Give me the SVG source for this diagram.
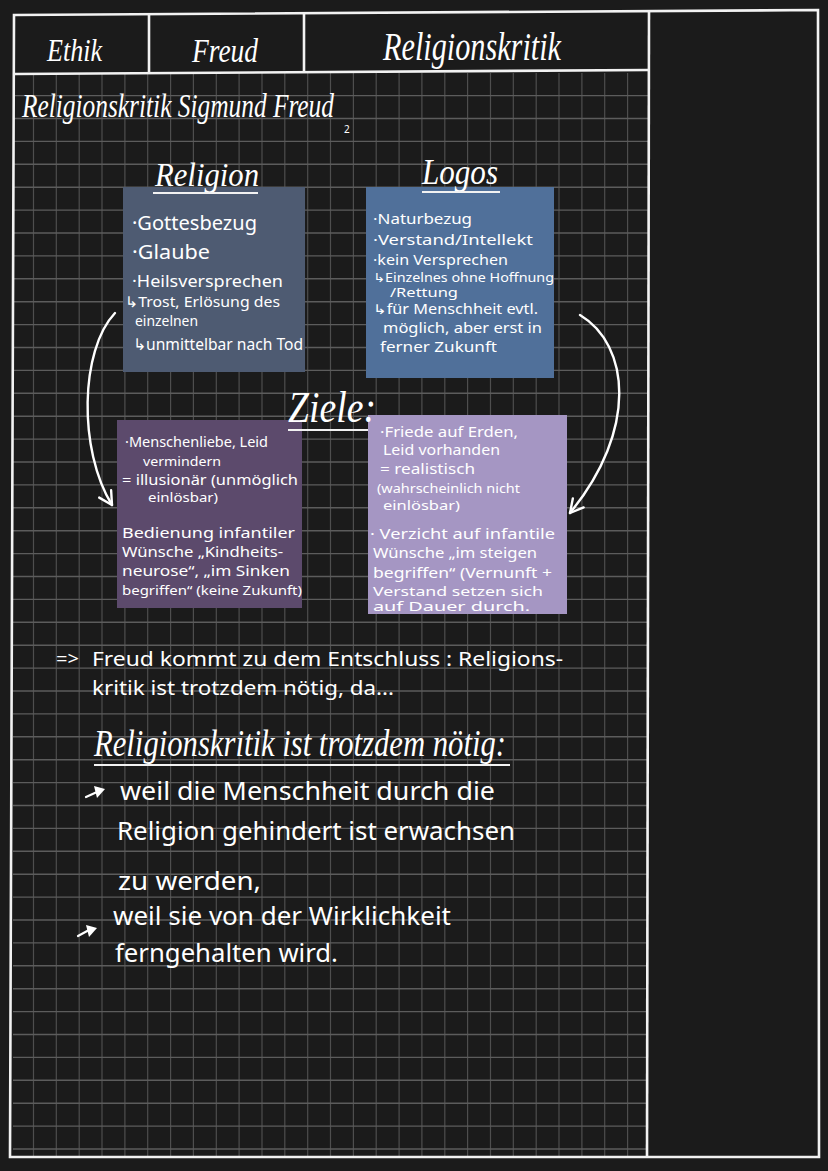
<svg xmlns="http://www.w3.org/2000/svg" width="828" height="1171" viewBox="0 0 828 1171">
  <defs>
    <marker id="vhead" markerUnits="userSpaceOnUse" markerWidth="30" markerHeight="30" refX="0" refY="0" viewBox="-15 -15 30 30" orient="auto">
      <path d="M-13,-7 L0,0 L-13,7" fill="none" stroke="#ffffff" stroke-width="2.4" stroke-linecap="round" stroke-linejoin="round"/>
    </marker>
    <style>
      .frame { stroke: #f2f2f2; stroke-width: 2.6; fill: none; }
      .gridv { stroke: #4e4e4e; stroke-width: 1.2; fill: none; }
      .gridh { stroke: #5c5c5c; stroke-width: 1.4; fill: none; }
      .cal { font-family: "Liberation Serif", "DejaVu Serif", serif; font-style: italic; fill: #ffffff; }
      .hand { font-family: "Noto Sans", "DejaVu Sans", sans-serif; fill: #ffffff; }
      .ul { stroke: #f2f2f2; stroke-width: 2.2; }
      .conn { fill: none; stroke: #ffffff; stroke-width: 2.4; stroke-linecap: round; }
    </style>
  </defs>

  <rect x="0" y="0" width="828" height="1171" fill="#1b1b1b"/>

  <g id="grid">
    <path class="gridv" d="M33.5,73V1157 M56.3,73V1157 M79.2,73V1157 M102,73V1157 M124.9,73V1157 M147.7,73V1157 M170.6,73V1157 M193.4,73V1157 M216.3,73V1157 M239.1,73V1157 M262,73V1157 M284.8,73V1157 M307.7,73V1157 M330.5,73V1157 M353.4,73V1157 M376.2,73V1157 M399.1,73V1157 M421.9,73V1157 M444.8,73V1157 M467.6,73V1157 M490.5,73V1157 M513.3,73V1157 M536.2,73V1157 M559,73V1157 M581.9,73V1157 M604.7,73V1157 M627.6,73V1157"/>
    <path class="gridh" d="M13,95.6H648 M13,118.5H648 M13,141.4H648 M13,164.3H648 M13,187.2H648 M13,210.1H648 M13,233H648 M13,255.9H648 M13,278.8H648 M13,301.7H648 M13,324.6H648 M13,347.5H648 M13,370.4H648 M13,393.3H648 M13,416.2H648 M13,439.1H648 M13,462H648 M13,484.9H648 M13,507.8H648 M13,530.7H648 M13,553.6H648 M13,576.5H648 M13,599.4H648 M13,622.3H648 M13,645.2H648 M13,668.1H648 M13,691H648 M13,713.9H648 M13,736.8H648 M13,759.7H648 M13,782.6H648 M13,805.5H648 M13,828.4H648 M13,851.3H648 M13,874.2H648 M13,897.1H648 M13,920H648 M13,942.9H648 M13,965.8H648 M13,988.7H648 M13,1011.6H648 M13,1034.5H648 M13,1057.4H648 M13,1080.3H648 M13,1103.2H648 M13,1126.1H648 M13,1149H648"/>
  </g>

  <g id="frame">
    <path class="frame" d="M14,15 L818,10 L819,1157 L10,1157 Z"/>
    <line class="frame" x1="649" y1="11" x2="647" y2="1157"/>
    <line class="frame" x1="14" y1="74" x2="649" y2="70"/>
    <line class="frame" x1="149" y1="14" x2="149" y2="73"/>
    <line class="frame" x1="304" y1="13" x2="304" y2="72"/>
  </g>

  <g id="header">
    <text class="cal" x="47" y="61" font-size="31" textLength="55" lengthAdjust="spacingAndGlyphs">Ethik</text>
    <text class="cal" x="192" y="62" font-size="33" textLength="66" lengthAdjust="spacingAndGlyphs">Freud</text>
    <text class="cal" x="383" y="60" font-size="40" textLength="178" lengthAdjust="spacingAndGlyphs">Religionskritik</text>
  </g>

  <g id="title">
    <text class="cal" x="22" y="117" font-size="34" textLength="312" lengthAdjust="spacingAndGlyphs">Religionskritik Sigmund Freud</text>
    <text class="hand" x="344" y="133" font-size="10">2</text>
  </g>

  <g id="node-religion">
    <rect x="123" y="187" width="182" height="185" fill="#4e5b72"/>
    <text class="cal" x="155" y="186" font-size="34" textLength="104" lengthAdjust="spacingAndGlyphs">Religion</text>
    <line class="ul" x1="153" y1="193" x2="258" y2="193"/>
    <text class="hand" x="132" y="230" font-size="20" textLength="125" lengthAdjust="spacingAndGlyphs">·Gottesbezug</text>
    <text class="hand" x="132" y="259" font-size="20" textLength="78" lengthAdjust="spacingAndGlyphs">·Glaube</text>
    <text class="hand" x="132" y="287" font-size="16" textLength="151" lengthAdjust="spacingAndGlyphs">·Heilsversprechen</text>
    <text class="hand" x="125" y="307" font-size="15" textLength="155" lengthAdjust="spacingAndGlyphs">↳Trost, Erlösung des</text>
    <text class="hand" x="135" y="326" font-size="15" textLength="63" lengthAdjust="spacingAndGlyphs">einzelnen</text>
    <text class="hand" x="133" y="350" font-size="16" textLength="170" lengthAdjust="spacingAndGlyphs">↳unmittelbar nach Tod</text>
  </g>

  <g id="node-logos">
    <rect x="366" y="187" width="188" height="191" fill="#50709a"/>
    <text class="cal" x="422" y="184" font-size="36" textLength="76" lengthAdjust="spacingAndGlyphs">Logos</text>
    <line class="ul" x1="422" y1="192" x2="500" y2="192"/>
    <text class="hand" x="373" y="224" font-size="15" textLength="99" lengthAdjust="spacingAndGlyphs">·Naturbezug</text>
    <text class="hand" x="373" y="245" font-size="15" textLength="160" lengthAdjust="spacingAndGlyphs">·Verstand/Intellekt</text>
    <text class="hand" x="373" y="265" font-size="15" textLength="135" lengthAdjust="spacingAndGlyphs">·kein Versprechen</text>
    <text class="hand" x="373" y="282" font-size="12.5" textLength="181" lengthAdjust="spacingAndGlyphs">↳Einzelnes ohne Hoffnung</text>
    <text class="hand" x="390" y="297" font-size="12.5" textLength="68" lengthAdjust="spacingAndGlyphs">/Rettung</text>
    <text class="hand" x="373" y="314" font-size="13.5" textLength="165" lengthAdjust="spacingAndGlyphs">↳für Menschheit evtl.</text>
    <text class="hand" x="383" y="333" font-size="15" textLength="159" lengthAdjust="spacingAndGlyphs">möglich, aber erst in</text>
    <text class="hand" x="380" y="352" font-size="15" textLength="117" lengthAdjust="spacingAndGlyphs">ferner Zukunft</text>
  </g>

  <g id="node-illusion">
    <rect x="117" y="420" width="185" height="188" fill="#5c4a6c"/>
    <text class="hand" x="125" y="447" font-size="14" textLength="143" lengthAdjust="spacingAndGlyphs">·Menschenliebe, Leid</text>
    <text class="hand" x="143" y="466" font-size="13" textLength="78" lengthAdjust="spacingAndGlyphs">vermindern</text>
    <text class="hand" x="122" y="485" font-size="15" textLength="176" lengthAdjust="spacingAndGlyphs">= illusionär (unmöglich</text>
    <text class="hand" x="148" y="502" font-size="13" textLength="70" lengthAdjust="spacingAndGlyphs">einlösbar)</text>
    <text class="hand" x="122" y="538" font-size="15" textLength="173" lengthAdjust="spacingAndGlyphs">Bedienung infantiler</text>
    <text class="hand" x="122" y="557" font-size="14" textLength="161" lengthAdjust="spacingAndGlyphs">Wünsche „Kindheits-</text>
    <text class="hand" x="122" y="576" font-size="14" textLength="168" lengthAdjust="spacingAndGlyphs">neurose“, „im Sinken</text>
    <text class="hand" x="122" y="595" font-size="13" textLength="180" lengthAdjust="spacingAndGlyphs">begriffen“ (keine Zukunft)</text>
  </g>

  <g id="node-realistic">
    <rect x="368" y="415" width="199" height="199" fill="#a596c3"/>
    <text class="hand" x="380" y="437" font-size="15" textLength="138" lengthAdjust="spacingAndGlyphs">·Friede auf Erden,</text>
    <text class="hand" x="383" y="455" font-size="14" textLength="117" lengthAdjust="spacingAndGlyphs">Leid vorhanden</text>
    <text class="hand" x="380" y="474" font-size="14" textLength="95" lengthAdjust="spacingAndGlyphs">= realistisch</text>
    <text class="hand" x="377" y="493" font-size="12" textLength="143" lengthAdjust="spacingAndGlyphs">(wahrscheinlich nicht</text>
    <text class="hand" x="383" y="510" font-size="12" textLength="77" lengthAdjust="spacingAndGlyphs">einlösbar)</text>
    <text class="hand" x="370" y="539" font-size="15" textLength="185" lengthAdjust="spacingAndGlyphs">· Verzicht auf infantile</text>
    <text class="hand" x="373" y="558" font-size="14.5" textLength="164" lengthAdjust="spacingAndGlyphs">Wünsche „im steigen</text>
    <text class="hand" x="373" y="578" font-size="14" textLength="179" lengthAdjust="spacingAndGlyphs">begriffen“ (Vernunft +</text>
    <text class="hand" x="373" y="596" font-size="13" textLength="170" lengthAdjust="spacingAndGlyphs">Verstand setzen sich</text>
    <text class="hand" x="373" y="611" font-size="12.5" textLength="157" lengthAdjust="spacingAndGlyphs">auf Dauer durch.</text>
  </g>

  <g id="node-ziele">
    <text class="cal" x="288" y="422" font-size="44" textLength="88" lengthAdjust="spacingAndGlyphs">Ziele:</text>
    <line class="ul" x1="288" y1="430" x2="368" y2="430"/>
  </g>

  <g id="connectors">
    <path class="conn" d="M115,313 C80,350 78,450 112,505" marker-end="url(#vhead)"/>
    <path class="conn" d="M580,315 C630,345 638,430 570,513" marker-end="url(#vhead)"/>
  </g>

  <g id="conclusion">
    <text class="hand" x="56" y="665" font-size="18" textLength="23" lengthAdjust="spacingAndGlyphs">=&gt;</text>
    <text class="hand" x="92" y="666" font-size="20" textLength="471" lengthAdjust="spacingAndGlyphs">Freud kommt zu dem Entschluss : Religions-</text>
    <text class="hand" x="92" y="695" font-size="20" textLength="302" lengthAdjust="spacingAndGlyphs">kritik ist trotzdem nötig, da...</text>
  </g>

  <g id="reasons">
    <text class="cal" x="94" y="756" font-size="38" textLength="412" lengthAdjust="spacingAndGlyphs">Religionskritik ist trotzdem nötig:</text>
    <line class="ul" x1="94" y1="765" x2="510" y2="765"/>
    <path d="M86,797 L97,792" stroke="#ffffff" stroke-width="2.2" stroke-linecap="round"/>
    <path d="M94,786 L105,789 L97,798 Z" fill="#ffffff"/>
    <text class="hand" x="120" y="800" font-size="25" textLength="375" lengthAdjust="spacingAndGlyphs">weil die Menschheit durch die</text>
    <text class="hand" x="117" y="840" font-size="25" textLength="398" lengthAdjust="spacingAndGlyphs">Religion gehindert ist erwachsen</text>
    <text class="hand" x="118" y="890" font-size="25" textLength="143" lengthAdjust="spacingAndGlyphs">zu werden,</text>
    <path d="M78,936 L89,930" stroke="#ffffff" stroke-width="2.2" stroke-linecap="round"/>
    <path d="M86,925 L97,928 L89,937 Z" fill="#ffffff"/>
    <text class="hand" x="113" y="925" font-size="25" textLength="338" lengthAdjust="spacingAndGlyphs">weil sie von der Wirklichkeit</text>
    <text class="hand" x="115" y="962" font-size="25" textLength="223" lengthAdjust="spacingAndGlyphs">ferngehalten wird.</text>
  </g>
</svg>
